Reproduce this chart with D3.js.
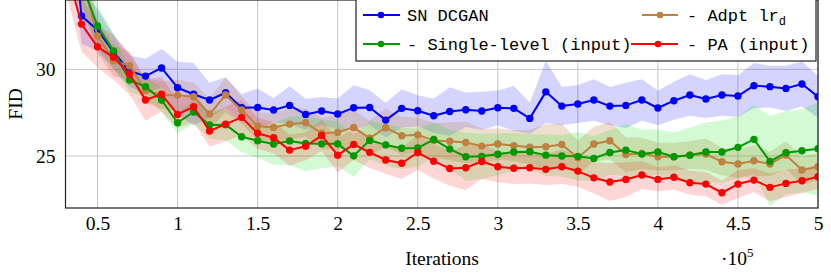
<!DOCTYPE html>
<html>
<head>
<meta charset="utf-8">
<script src="https://cdn.jsdelivr.net/npm/d3@7"></script>
<style>
  html, body { margin: 0; padding: 0; background: #fff; }
  svg { display: block; }
</style>
</head>
<body>
<svg id="chart" width="831" height="275"></svg>
<script>
// ---- data (x in units of 1e5 iterations) ----
const iterations = [0.3,0.4,0.5,0.6,0.7,0.8,0.9,1.0,1.1,1.2,1.3,1.4,1.5,1.6,1.7,1.8,1.9,2.0,2.1,2.2,2.3,2.4,2.5,2.6,2.7,2.8,2.9,3.0,3.1,3.2,3.3,3.4,3.5,3.6,3.7,3.8,3.9,4.0,4.1,4.2,4.3,4.4,4.5,4.6,4.7,4.8,4.9,5.0];

const snDcgan = [42.0,33.08,32.27,31.0,29.9,29.61,30.08,28.94,28.56,28.23,28.65,27.78,27.8,27.65,27.92,27.4,27.6,27.42,27.78,27.8,27.07,27.75,27.61,27.32,27.57,27.67,27.6,27.78,27.75,27.17,28.7,27.88,28.0,28.23,27.88,27.92,28.23,27.77,28.19,28.52,28.29,28.52,28.46,29.06,29.0,28.9,29.15,28.42];
const snDcganStd = [1.5,1.6,1.2,1.0,0.9,1.0,1.1,1.5,1.8,1.0,0.9,0.8,1.1,0.7,1.1,0.9,0.8,0.9,1.3,1.0,1.0,1.1,0.9,1.0,1.4,1.0,1.1,1.0,1.3,0.9,1.8,1.1,1.1,1.2,1.1,1.3,1.2,1.0,1.1,1.2,1.1,1.2,1.2,1.3,1.2,1.3,1.3,1.2];

const adptLr = [39.0,35.3,31.92,30.5,30.21,28.77,28.52,28.5,28.42,27.42,28.52,27.65,26.73,26.65,26.84,26.92,26.31,26.36,26.65,26.03,26.63,26.17,26.22,25.9,25.85,25.78,25.57,25.69,25.6,25.51,25.53,25.66,24.9,25.69,25.88,25.08,25.15,24.96,24.96,25.05,25.11,24.67,24.54,24.73,24.54,25.05,24.19,24.38];
const adptLrStd = [2.0,1.5,1.0,0.9,0.8,0.7,0.8,0.9,0.8,0.9,1.0,0.8,0.8,0.8,0.9,0.8,0.9,1.0,1.0,1.0,1.1,1.1,1.0,1.0,1.1,1.2,1.0,0.9,0.9,1.0,1.3,1.2,1.0,1.0,1.1,1.0,0.9,0.8,0.8,0.8,0.9,0.8,0.8,0.9,0.7,0.8,0.8,0.8];

const singleLevel = [39.0,35.0,32.5,31.06,29.38,29.0,28.23,26.92,27.54,26.79,26.81,26.11,25.88,25.69,25.87,25.72,25.7,25.7,25.01,25.9,25.64,25.45,25.46,25.96,25.4,24.96,24.98,25.1,25.23,25.25,25.05,25.0,24.98,24.86,25.2,25.34,25.11,25.23,24.96,25.05,25.23,25.23,25.5,25.96,24.69,25.19,25.3,25.42];
const singleLevelStd = [2.0,1.5,1.2,1.0,0.7,0.6,0.7,0.6,0.7,0.8,0.9,0.9,1.0,1.2,1.4,1.6,1.4,1.3,1.2,1.1,1.2,1.2,1.1,1.0,1.1,1.4,1.3,1.2,1.1,1.0,1.2,1.2,1.4,1.3,1.3,1.5,1.4,1.3,1.4,1.6,1.7,1.8,1.8,2.0,2.6,2.4,2.4,2.7];

const paInput = [36.0,32.61,31.3,30.69,29.73,28.23,28.57,27.4,27.84,26.44,26.84,27.23,26.31,26.05,25.34,25.56,26.18,25.05,25.67,25.21,24.77,24.58,25.2,24.7,24.28,24.32,24.68,24.38,24.29,24.32,24.23,24.38,24.13,23.74,23.5,23.64,23.9,23.65,23.77,23.46,23.38,22.88,23.38,23.61,23.19,23.42,23.57,23.8];
const paInputStd = [1.5,1.6,1.2,1.3,1.2,1.2,1.0,0.8,0.9,0.9,1.0,1.0,0.9,0.9,0.9,0.8,0.9,1.0,0.9,0.9,0.8,0.9,1.0,1.0,1.0,1.3,1.0,0.9,0.9,0.9,0.9,1.0,0.9,0.9,1.1,1.0,0.8,0.7,0.7,0.7,0.7,0.7,0.8,0.7,0.8,0.8,0.7,0.7];

const seriesNames = ["SN DCGAN", "- Adpt lr", "- Single-level (input)", "- PA (input)"];
const seriesColors = ["#0000ff", "#bf8040", "#009900", "#ff0000"];
const bandColors = ["#0000ff", "#bf8040", "#00e000", "#ff0000"];

const xTicks = [0.5,1,1.5,2,2.5,3,3.5,4,4.5,5];
const xTickLabels = ["0.5","1","1.5","2","2.5","3","3.5","4","4.5","5"];
const yTicks = [25,30];
const yTickLabels = ["25","30"];

// ---- drawing ----
const series = [
  {name: seriesNames[0], mean: snDcgan, std: snDcganStd, color: seriesColors[0], band: bandColors[0], bandOp: 0.17},
  {name: seriesNames[1], mean: adptLr, std: adptLrStd, color: seriesColors[1], band: bandColors[1], bandOp: 0.25},
  {name: seriesNames[2], mean: singleLevel, std: singleLevelStd, color: seriesColors[2], band: bandColors[2], bandOp: 0.17},
  {name: seriesNames[3], mean: paInput, std: paInputStd, color: seriesColors[3], band: bandColors[3], bandOp: 0.16}
];

const svg = d3.select("#chart");
const L = 65.5, R = 818, T = 0, B = 208;
const x = d3.scaleLinear().domain([0.3, 5]).range([L, R]);
const y = d3.scaleLinear().domain([22, 34]).range([B, T]);

svg.append("defs").append("clipPath").attr("id", "clip")
  .append("rect").attr("x", L).attr("y", T).attr("width", R - L).attr("height", B - T);

// grid
const grid = svg.append("g");
grid.selectAll("line.gx").data(xTicks).join("line")
  .attr("x1", d => x(d)).attr("x2", d => x(d)).attr("y1", T).attr("y2", B)
  .attr("stroke", "#c6c6c6").attr("stroke-width", 1);
grid.selectAll("line.gy").data(yTicks).join("line")
  .attr("x1", L).attr("x2", R).attr("y1", d => y(d)).attr("y2", d => y(d))
  .attr("stroke", "#c6c6c6").attr("stroke-width", 1);

const plot = svg.append("g").attr("clip-path", "url(#clip)");

// bands
series.forEach(s => {
  const pts = iterations.map((v, i) => ({x: v, m: s.mean[i], sd: s.std[i]}));
  const area = d3.area().x(d => x(d.x)).y0(d => y(d.m - d.sd)).y1(d => y(d.m + d.sd));
  plot.append("path").datum(pts).attr("d", area)
    .attr("fill", s.band).attr("fill-opacity", s.bandOp).attr("stroke", "none");
});

// lines + markers
series.forEach(s => {
  const pts = iterations.map((v, i) => ({x: v, m: s.mean[i]}));
  const line = d3.line().x(d => x(d.x)).y(d => y(d.m));
  plot.append("path").datum(pts).attr("d", line)
    .attr("fill", "none").attr("stroke", s.color).attr("stroke-width", 2)
    .attr("stroke-linejoin", "round");
  plot.selectAll(null).data(pts).join("circle")
    .attr("cx", d => x(d.x)).attr("cy", d => y(d.m)).attr("r", 3.7)
    .attr("fill", s.color);
});

// frame
svg.append("rect").attr("x", L).attr("y", T).attr("width", R - L).attr("height", B - T)
  .attr("fill", "none").attr("stroke", "#222").attr("stroke-width", 1.2);

// axes (labels only, via d3 axis)
const xAxis = d3.axisBottom(x).tickValues(xTicks)
  .tickFormat((d, i) => xTickLabels[i]).tickSize(0).tickPadding(0);
const gx = svg.append("g").attr("transform", `translate(0,${B})`).call(xAxis);
gx.select(".domain").remove();
gx.selectAll("text").attr("font-family", "'Liberation Serif', 'DejaVu Serif', serif")
  .attr("font-size", 19.5).attr("fill", "#000").attr("dy", null).attr("y", 22);

const yAxis = d3.axisLeft(y).tickValues(yTicks)
  .tickFormat((d, i) => yTickLabels[i]).tickSize(0).tickPadding(0);
const gy = svg.append("g").attr("transform", `translate(${L},0)`).call(yAxis);
gy.select(".domain").remove();
gy.selectAll("text").attr("font-family", "'Liberation Serif', 'DejaVu Serif', serif")
  .attr("font-size", 19.5).attr("fill", "#000").attr("x", -10).attr("dy", "0.34em");

// axis titles
svg.append("text").attr("transform", "translate(22,104) rotate(-90)")
  .attr("text-anchor", "middle").attr("font-family", "'Liberation Serif', serif")
  .attr("font-size", 19.5).text("FID");
svg.append("text").attr("x", 442).attr("y", 265).attr("text-anchor", "middle")
  .attr("font-family", "'Liberation Serif', serif").attr("font-size", 19.5).text("Iterations");
const sci = svg.append("text").attr("x", 721).attr("y", 265)
  .attr("font-family", "'Liberation Serif', serif").attr("font-size", 19.5);
sci.append("tspan").text("·10");
sci.append("tspan").attr("dy", -8).attr("font-size", 13).text("5");

// legend
const lg = svg.append("g");
lg.append("rect").attr("x", 356).attr("y", -1).attr("width", 460).attr("height", 62)
  .attr("fill", "#fff").attr("stroke", "#222").attr("stroke-width", 1.2);
const legendPos = [
  {lx1: 363, lx2: 400, mx: 381, ty: 15, tx: 407},
  {lx1: 642, lx2: 678, mx: 660, ty: 15, tx: 687},
  {lx1: 363, lx2: 400, mx: 381, ty: 44, tx: 407},
  {lx1: 631, lx2: 678, mx: 658, ty: 44, tx: 687}
];
series.forEach((s, i) => {
  const p = legendPos[i];
  lg.append("line").attr("x1", p.lx1).attr("x2", p.lx2).attr("y1", p.ty).attr("y2", p.ty)
    .attr("stroke", s.color).attr("stroke-width", 2);
  lg.append("circle").attr("cx", p.mx).attr("cy", p.ty).attr("r", 3.3).attr("fill", s.color);
  const t = lg.append("text").attr("x", p.tx).attr("y", p.ty + 6)
    .attr("font-family", "'Liberation Mono', 'DejaVu Sans Mono', monospace")
    .attr("font-size", 17).attr("fill", "#000");
  t.append("tspan").text(s.name);
  if (i === 1) {
    t.append("tspan").attr("dy", 4).attr("font-size", 12).text("d");
  }
});
</script>
</body>
</html>
